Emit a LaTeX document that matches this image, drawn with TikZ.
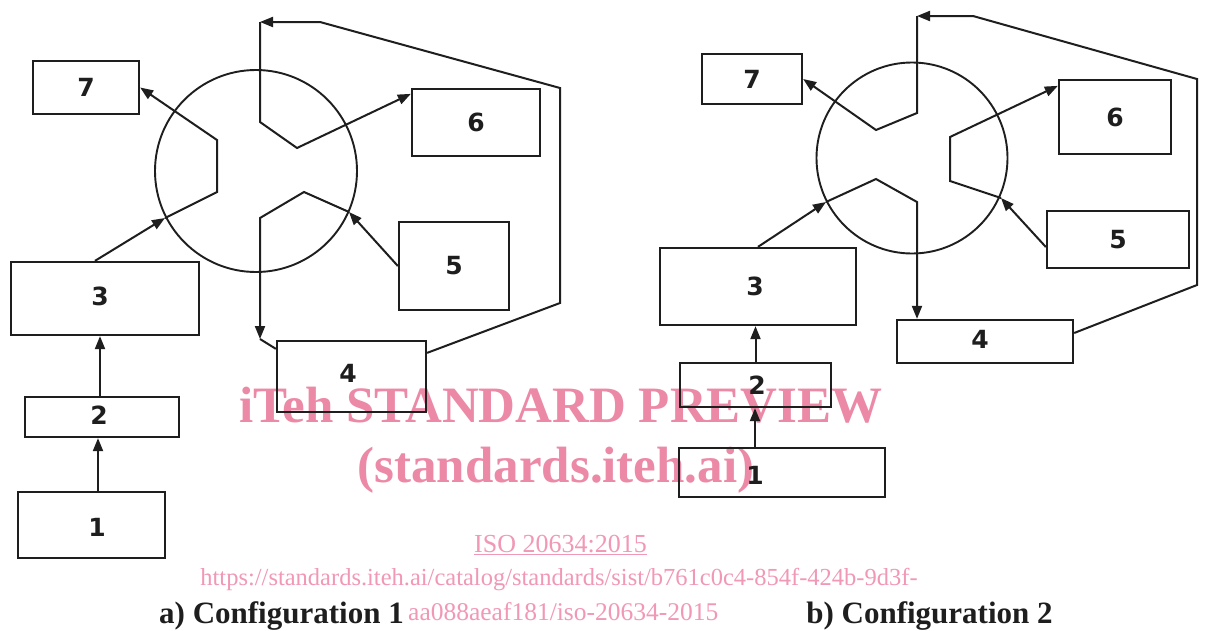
\documentclass[tikz,border=0pt]{standalone}
\usepackage{fontspec}
\setmainfont{Liberation Serif}
\newfontfamily\digfont{DejaVu Sans}
\usetikzlibrary{arrows.meta}
\definecolor{ink}{RGB}{30,30,30}
\definecolor{wm}{RGB}{236,137,167}
\definecolor{wmlight}{RGB}{241,152,182}
\begin{document}
\begin{tikzpicture}[x=1pt,y=-1pt,
  boxn/.style={draw=ink, line width=2.3pt, inner sep=0pt, rectangle},
  ring/.style={draw=ink, line width=1.9pt, inner sep=0pt, circle},
  lab/.style={font=\digfont\bfseries\fontsize{25}{25}\selectfont, text=ink, inner sep=0pt},
  conn/.style={draw=ink, line width=2pt, line join=miter},
  arr/.style={conn, -{Triangle[length=13pt,width=10pt]}},
  wmbig/.style={text=wm, font=\bfseries\fontsize{51}{51}\selectfont, inner sep=0pt},
  wmsmall/.style={text=wmlight, font=\fontsize{24.5}{24.5}\selectfont, inner sep=0pt},
  capt/.style={text=ink, font=\bfseries\fontsize{31}{31}\selectfont, inner sep=0pt}
]
\fill[white] (0,0) rectangle (1205,630);
\useasboundingbox (0,0) rectangle (1205,630);

% watermark (underneath)
\node[wmbig, anchor=base] (wm1) at (561,422) {iTeh STANDARD PREVIEW};
\node[wmbig, anchor=base] (wm2) at (556,482) {(standards.iteh.ai)};
\node[wmsmall, font=\fontsize{26}{26}\selectfont, anchor=base] (wm3) at (560.5,552) {\underline{ISO 20634:2015}};
\node[wmsmall, anchor=base] (wm4) at (559,585) {https://standards.iteh.ai/catalog/standards/sist/b761c0c4-854f-424b-9d3f-};
\node[wmsmall, font=\fontsize{25.5}{25.5}\selectfont, anchor=base west] (wm5) at (408,620) {aa088aeaf181/iso-20634-2015};

% captions
\node[capt, anchor=base] (capa) at (281.5,623) {a) Configuration 1};
\node[capt, anchor=base] (capb) at (929.5,623) {b) Configuration 2};

% ===== Configuration 1 =====
\node[ring, minimum size=202pt] (ac) at (256,171) {};
\node[boxn, minimum width=106pt, minimum height=53pt, label={[lab]center:7}] (a7) at (86,87.5) {};
\node[boxn, minimum width=128pt, minimum height=67pt, label={[lab]center:6}] (a6) at (476,122.5) {};
\node[boxn, minimum width=110pt, minimum height=88pt, label={[lab]center:5}] (a5) at (454,266) {};
\node[boxn, minimum width=188pt, minimum height=73pt, label={[lab,xshift=-5pt,yshift=2.5pt]center:3}] (a3) at (105,298.5) {};
\node[boxn, minimum width=154pt, minimum height=40pt, label={[lab,xshift=-3pt,yshift=2pt]center:2}] (a2) at (102,417) {};
\node[boxn, minimum width=147pt, minimum height=66pt, label={[lab,xshift=5.5pt,yshift=-2pt]center:1}] (a1) at (91.5,525) {};
\node[boxn, minimum width=149pt, minimum height=71pt, label={[lab,xshift=-3.5pt,yshift=3pt]center:4}] (a4) at (351.5,376.5) {};

\coordinate (a1s) at ([xshift=6.5pt]a1.north);
\coordinate (a2s) at ([xshift=-2pt]a2.north);
\coordinate (a3s) at ([xshift=-10pt]a3.north);
\coordinate (ca1) at (165,218);
\coordinate (ca2) at (217,192);
\coordinate (ca3) at (217,140);
\coordinate (ta1) at (260,122);
\coordinate (ta2) at (260,22);
\coordinate (ta3) at (320,22);
\coordinate (ta4) at (560,88);
\coordinate (ta5) at (560,303);
\coordinate (ta6) at (297,148);
\coordinate (ba1) at (349,212);
\coordinate (ba2) at (304,192);
\coordinate (ba3) at (260,218);
\coordinate (ba4) at (260,339);

\draw[arr] (a1s) -- (a1s |- a2.south);
\draw[arr] (a2s) -- (a2s |- a3.south);
\draw[arr] (a3s) -- (ca1);
\draw[arr] (ca1) -- (ca2) -- (ca3) -- (a7.east);
\draw[arr] ([yshift=-13pt]a4.north east) -- (ta5) -- (ta4) -- (ta3) -- (ta2);
\draw[arr] (ta2) -- (ta1) -- (ta6) -- ([yshift=-6pt]a6.north west);
\draw[arr] (a5.west) -- (ba1);
\draw[arr] (ba1) -- (ba2) -- (ba3) -- (ba4);
\draw[conn] (ba4) -- ([yshift=-9pt]a4.north west);

% ===== Configuration 2 =====
\node[ring, minimum size=191pt] (bc) at (912,158) {};
\node[boxn, minimum width=100pt, minimum height=50pt, label={[lab]center:7}] (b7) at (752,79) {};
\node[boxn, minimum width=112pt, minimum height=74pt, label={[lab]center:6}] (b6) at (1115,117) {};
\node[boxn, minimum width=142pt, minimum height=57pt, label={[lab]center:5}] (b5) at (1118,239.5) {};
\node[boxn, minimum width=196pt, minimum height=77pt, label={[lab,xshift=-3pt]center:3}] (b3) at (758,286.5) {};
\node[boxn, minimum width=176pt, minimum height=43pt, label={[lab,xshift=-5pt,yshift=2pt]center:4}] (b4) at (985,341.5) {};
\node[boxn, minimum width=151pt, minimum height=44pt, label={[lab,xshift=1.5pt]center:2}] (b2) at (755.5,385) {};
\node[boxn, minimum width=206pt, minimum height=49pt, label={[lab,xshift=-27pt,yshift=-2.5pt]center:1}] (b1) at (782,472.5) {};

\coordinate (b1s) at ([xshift=-27pt]b1.north);
\coordinate (b2s) at (b2.north);
\coordinate (cb1) at (826,202);
\coordinate (cb2) at (876,179);
\coordinate (cb3) at (917,202);
\coordinate (tb1) at (917,113);
\coordinate (tb2) at (917,16);
\coordinate (tb3) at (973,16);
\coordinate (tb4) at (1197,79);
\coordinate (tb5) at (1197,285);
\coordinate (tb6) at (876,130);
\coordinate (rb1) at (1001,198);
\coordinate (rb2) at (950,181);
\coordinate (rb3) at (950,137);

\draw[arr] (b1s) -- (b1s |- b2.south);
\draw[arr] (b2s) -- (b2s |- b3.south);
\draw[arr] (b3.north) -- (cb1);
\draw[arr] (cb1) -- (cb2) -- (cb3) -- (cb3 |- b4.north);
\draw[arr] ([yshift=8.5pt]b4.east) -- (tb5) -- (tb4) -- (tb3) -- (tb2);
\draw[arr] (tb2) -- (tb1) -- (tb6) -- (b7.east);
\draw[arr] ([yshift=-7.5pt]b5.west) -- (rb1);
\draw[arr] (rb1) -- (rb2) -- (rb3) -- ([yshift=-7pt]b6.north west);
\end{tikzpicture}
\end{document}
